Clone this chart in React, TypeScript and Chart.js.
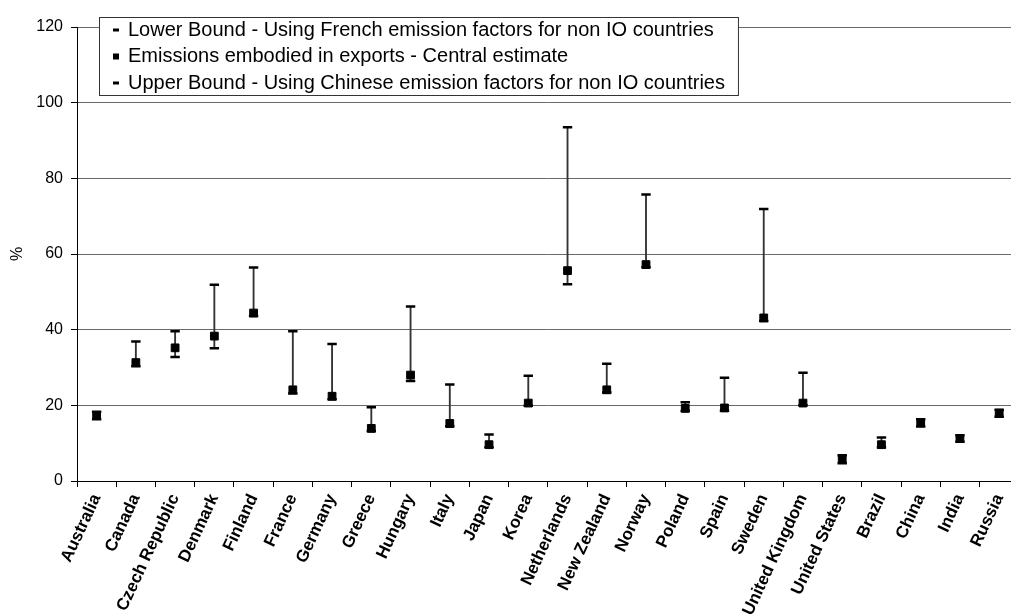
import React, { useEffect, useRef } from "react";
import { Chart, registerables } from "chart.js";

Chart.register(...registerables);

const categories = [
  "Australia", "Canada", "Czech Republic", "Denmark", "Finland", "France", "Germany", "Greece",
  "Hungary", "Italy", "Japan", "Korea", "Netherlands", "New Zealand", "Norway", "Poland",
  "Spain", "Sweden", "United Kingdom", "United States", "Brazil", "China", "India", "Russia",
];

const centralEstimate = [
  17.3, 31.3, 35.2, 38.3, 44.4, 24.1, 22.4, 13.9,
  28.0, 15.2, 9.6, 20.6, 55.6, 24.1, 57.2, 19.2,
  19.3, 43.1, 20.6, 5.8, 9.6, 15.4, 11.2, 17.9,
];

const lowerBound = [
  16.3, 30.3, 32.8, 35.1, 43.6, 23.1, 21.6, 13.2,
  26.4, 14.5, 8.9, 19.9, 52.0, 23.4, 56.5, 18.5,
  18.6, 42.3, 20.0, 4.7, 8.9, 14.4, 10.4, 17.0,
];

const upperBound = [
  18.3, 36.9, 39.6, 51.9, 56.4, 39.6, 36.2, 19.5,
  46.1, 25.5, 12.3, 27.8, 93.5, 31.0, 75.7, 20.8,
  27.3, 71.9, 28.6, 6.8, 11.5, 16.3, 12.1, 18.8,
];

const legendLabels = [
  "Lower Bound - Using French emission factors for non IO countries",
  "Emissions embodied in exports - Central estimate",
  "Upper Bound - Using Chinese emission factors for non IO countries",
];

const yMin = 0;
const yMax = 120;
const yStep = 20;
const yTitle = "%";

const FONT = '"Liberation Sans", Arial, Helvetica, sans-serif';

const boxLegend = {
  id: "boxLegend",
  afterDraw(chart: any) {
    const ctx = chart.ctx;
    const items = chart.data.datasets.filter((d: any) => d.inLegend);
    ctx.save();
    ctx.font = `20px ${FONT}`;
    const x0 = 99;
    const y0 = 17;
    const rowH = 26.5;
    const textX = 128;
    let maxW = 0;
    items.forEach((d: any) => {
      maxW = Math.max(maxW, ctx.measureText(d.label).width);
    });
    const w = textX - x0 + maxW + 13;
    const h = 78;
    ctx.fillStyle = "#ffffff";
    ctx.fillRect(x0, y0, w, h);
    ctx.strokeStyle = "#333333";
    ctx.lineWidth = 1;
    ctx.strokeRect(x0 + 0.5, y0 + 0.5, w, h);
    items.forEach((d: any, i: number) => {
      const cy = y0 + 13 + i * rowH;
      ctx.fillStyle = "#000000";
      if (d.pointStyle === "rect") ctx.fillRect(113, cy - 3, 6, 6);
      else ctx.fillRect(113, cy - 1.5, 6, 3);
      ctx.textBaseline = "middle";
      ctx.textAlign = "left";
      ctx.fillText(d.label, textX, cy);
    });
    ctx.restore();
  },
};

export default function App() {
  const canvasRef = useRef<HTMLCanvasElement | null>(null);

  useEffect(() => {
    const canvas = canvasRef.current;
    if (!canvas) return;
    const capStyle = {
      showLine: false,
      pointStyle: "line",
      pointRadius: 4.7,
      pointHoverRadius: 4.7,
      pointBorderWidth: 2.5,
      pointBorderColor: "#000000",
      pointBackgroundColor: "#000000",
      borderColor: "#000000",
      backgroundColor: "#000000",
      order: 1,
      inLegend: true,
    };
    const chart = new Chart(canvas, {
      type: "line",
      data: {
        labels: categories,
        datasets: [
          { ...capStyle, label: legendLabels[0], data: lowerBound } as any,
          {
            label: legendLabels[1],
            data: centralEstimate,
            showLine: false,
            pointStyle: "rect",
            pointRadius: 5.5,
            pointHoverRadius: 5.5,
            pointBorderWidth: 1,
            pointBorderColor: "#000000",
            pointBackgroundColor: "#000000",
            borderColor: "#000000",
            backgroundColor: "#000000",
            order: 0,
            inLegend: true,
          } as any,
          { ...capStyle, label: legendLabels[2], data: upperBound } as any,
          {
            type: "bar",
            label: "range",
            data: categories.map((_, i) => [lowerBound[i], upperBound[i]]),
            backgroundColor: "#333333",
            borderWidth: 0,
            barThickness: 1.2,
            order: 2,
          } as any,
        ],
      },
      options: {
        responsive: false,
        animation: false,
        events: [],
        layout: { padding: { top: 27, left: 0, right: 0, bottom: 0 } },
        plugins: {
          legend: { display: false },
          tooltip: { enabled: false },
        },
        scales: {
          x: {
            type: "category",
            offset: true,
            grid: {
              offset: true,
              drawOnChartArea: false,
              drawTicks: true,
              tickLength: 6,
              color: "#000000",
              lineWidth: 1,
            },
            border: { color: "#000000", width: 1 },
            ticks: {
              minRotation: 65,
              maxRotation: 65,
              autoSkip: false,
              padding: 4,
              color: "#000000",
              font: { family: FONT, size: 17, weight: "bold" },
            },
            afterFit: (s: any) => {
              s.height = 133;
            },
          },
          y: {
            min: yMin,
            max: yMax,
            ticks: {
              stepSize: yStep,
              padding: 8,
              color: "#000000",
              font: { family: FONT, size: 16 },
            },
            grid: { color: "#6a6a6a", tickColor: "#000000", tickLength: 6, lineWidth: 1 },
            border: { color: "#000000", width: 1 },
            title: {
              display: true,
              text: yTitle,
              color: "#000000",
              font: { family: FONT, size: 16 },
              padding: { top: 8, bottom: 0 },
            },
            afterFit: (s: any) => {
              s.width = 77;
            },
          },
        },
      } as any,
      plugins: [boxLegend],
    });
    return () => chart.destroy();
  }, []);

  return (
    <div
      style={{
        position: "fixed",
        left: 0,
        top: 0,
        width: 1011,
        height: 614,
        overflow: "hidden",
        background: "#ffffff",
      }}
    >
      <canvas ref={canvasRef} width={1026} height={614} style={{ display: "block" }} />
    </div>
  );
}
